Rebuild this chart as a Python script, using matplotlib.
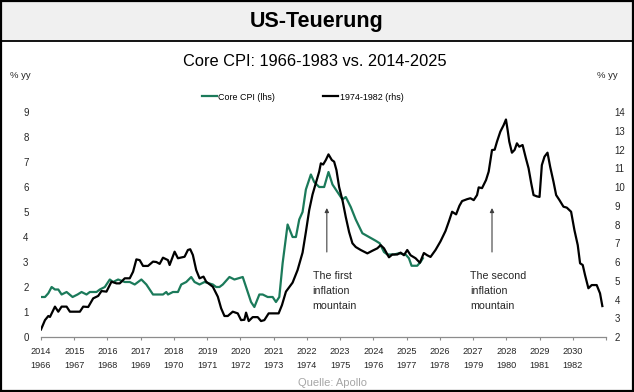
import matplotlib
matplotlib.use("Agg")
import matplotlib.pyplot as plt
from matplotlib.patches import Rectangle
from matplotlib.lines import Line2D

plt.rcParams['font.family'] = ['Liberation Sans Narrow', 'Liberation Sans', 'DejaVu Sans']

# Core CPI 2014-2025 (lhs), x = Jahr (Dezimal)
cpi_t = [2014.00, 2014.12, 2014.22, 2014.32, 2014.42, 2014.52, 2014.62, 2014.77, 2014.95,
         2015.10, 2015.22, 2015.37, 2015.47, 2015.67, 2015.77, 2015.92, 2016.07, 2016.17,
         2016.32, 2016.52, 2016.67, 2016.82, 2017.02, 2017.17, 2017.37, 2017.67, 2017.77,
         2017.82, 2017.97, 2018.12, 2018.22, 2018.37, 2018.52, 2018.62, 2018.77, 2018.92,
         2019.17, 2019.27, 2019.37, 2019.47, 2019.67, 2019.82, 2020.07, 2020.17, 2020.32,
         2020.42, 2020.57, 2020.67, 2020.82, 2020.97, 2021.07, 2021.17, 2021.27, 2021.42,
         2021.57, 2021.67, 2021.77, 2021.87, 2021.97, 2022.12, 2022.22, 2022.37, 2022.52,
         2022.65, 2022.77, 2022.97, 2023.07, 2023.17, 2023.32, 2023.47, 2023.67, 2023.87,
         2024.07, 2024.19, 2024.32, 2024.42, 2024.62, 2024.77, 2024.97, 2025.07, 2025.15,
         2025.32, 2025.42, 2025.49]
cpi_v = [1.60, 1.60, 1.75, 2.00, 1.90, 1.90, 1.70, 1.80, 1.60,
         1.70, 1.80, 1.70, 1.80, 1.80, 1.90, 2.00, 2.30, 2.20,
         2.30, 2.20, 2.20, 2.10, 2.30, 2.10, 1.70, 1.70, 1.80,
         1.70, 1.80, 1.80, 2.10, 2.20, 2.40, 2.20, 2.10, 2.20,
         2.10, 2.00, 2.00, 2.10, 2.40, 2.30, 2.40, 2.00, 1.40,
         1.20, 1.70, 1.70, 1.60, 1.60, 1.40, 1.60, 2.95, 4.50,
         4.00, 4.00, 4.70, 5.00, 5.90, 6.50, 6.20, 6.00, 6.00,
         6.60, 6.10, 5.70, 5.50, 5.60, 5.20, 4.70, 4.15, 4.00,
         3.85, 3.75, 3.40, 3.30, 3.30, 3.35, 3.30, 3.15, 2.85,
         2.85, 3.00, 3.15]

# Core CPI 1966-1983 (rhs), verschoben auf 2014-2031
hist_t = [2014.00, 2014.12, 2014.22, 2014.27, 2014.42, 2014.52, 2014.62, 2014.77, 2014.87,
          2015.17, 2015.27, 2015.42, 2015.57, 2015.72, 2015.82, 2015.97, 2016.12, 2016.27,
          2016.37, 2016.52, 2016.67, 2016.77, 2016.87, 2016.97, 2017.07, 2017.22, 2017.37,
          2017.47, 2017.57, 2017.67, 2017.82, 2017.87, 2018.02, 2018.12, 2018.32, 2018.42,
          2018.49, 2018.57, 2018.67, 2018.77, 2018.89, 2018.97, 2019.17, 2019.32, 2019.42,
          2019.52, 2019.62, 2019.77, 2019.92, 2020.02, 2020.12, 2020.17, 2020.25, 2020.37,
          2020.52, 2020.62, 2020.72, 2020.85, 2021.15, 2021.25, 2021.37, 2021.57, 2021.72,
          2021.87, 2021.97, 2022.07, 2022.17, 2022.27, 2022.37, 2022.42, 2022.49, 2022.57,
          2022.65, 2022.75, 2022.82, 2022.89, 2022.97, 2023.07, 2023.17, 2023.27, 2023.37,
          2023.47, 2023.62, 2023.72, 2023.82, 2023.97, 2024.12, 2024.22, 2024.32, 2024.47,
          2024.57, 2024.72, 2024.82, 2024.92, 2025.02, 2025.12, 2025.27, 2025.40, 2025.52,
          2025.62, 2025.72, 2025.87, 2026.02, 2026.17, 2026.27, 2026.37, 2026.49, 2026.59,
          2026.67, 2026.82, 2026.92, 2027.02, 2027.12, 2027.17, 2027.27, 2027.39, 2027.47,
          2027.57, 2027.65, 2027.72, 2027.82, 2027.92, 2027.99, 2028.04, 2028.09, 2028.17,
          2028.25, 2028.32, 2028.39, 2028.49, 2028.59, 2028.67, 2028.75, 2028.82, 2028.92,
          2029.00, 2029.07, 2029.15, 2029.24, 2029.32, 2029.42, 2029.50, 2029.60, 2029.72,
          2029.82, 2029.95, 2030.05, 2030.15, 2030.22, 2030.30, 2030.37, 2030.47, 2030.57,
          2030.72, 2030.82, 2030.89]
hist_v = [2.40, 2.90, 3.12, 3.07, 3.62, 3.35, 3.62, 3.62, 3.35,
          3.35, 3.62, 3.60, 4.06, 4.19, 4.45, 4.42, 4.95, 4.86,
          4.86, 5.13, 5.13, 5.48, 6.14, 6.10, 5.79, 5.79, 6.02,
          6.00, 5.90, 6.23, 6.10, 5.84, 6.55, 6.20, 6.28, 6.64,
          6.68, 6.37, 5.57, 5.13, 5.22, 4.95, 4.68, 4.15, 3.53,
          3.12, 3.12, 3.35, 3.26, 2.90, 2.92, 3.30, 2.85, 3.06,
          3.06, 2.85, 2.90, 3.26, 3.26, 3.70, 4.42, 4.90, 5.57,
          6.50, 7.60, 8.77, 9.60, 10.20, 10.82, 11.26, 11.20, 11.44,
          11.74, 11.44, 11.35, 10.90, 10.00, 9.30, 8.40, 7.60, 7.00,
          6.80, 6.64, 6.55, 6.46, 6.60, 6.73, 6.90, 6.73, 6.25,
          6.40, 6.40, 6.50, 6.36, 6.64, 6.36, 6.20, 5.96, 6.48,
          6.36, 6.27, 6.64, 7.10, 7.65, 8.15, 8.68, 8.54, 9.00,
          9.25, 9.35, 9.40, 9.30, 9.57, 9.98, 9.94, 10.37, 10.82,
          11.97, 11.99, 12.42, 12.95, 13.30, 13.60, 13.04, 12.42, 11.83,
          11.98, 12.33, 12.15, 12.24, 11.53, 11.00, 10.20, 9.57, 9.50,
          9.47, 11.17, 11.62, 11.83, 11.08, 10.28, 9.57, 9.30, 8.95,
          8.90, 8.68, 7.70, 6.90, 5.93, 5.84, 5.30, 4.60, 4.77,
          4.77, 4.33, 3.65]

years_new = list(range(2014, 2031))
years_old = list(range(1966, 1983))
tick_labels = [f"{a}\n{b}" for a, b in zip(years_new, years_old)]

green = '#1b7a5a'
txt = '#262626'

fig = plt.figure(figsize=(6.34, 3.92), dpi=100)

# Kopfzeile
fig.patches.append(Rectangle((0, 1 - 41 / 392), 1, 41 / 392, transform=fig.transFigure,
                             facecolor='#f0f0f0', edgecolor='none', zorder=0))
fig.lines.append(Line2D([0, 1], [1 - 41 / 392] * 2, transform=fig.transFigure, color='black', lw=1.3))
fig.patches.append(Rectangle((0.001, 0.002), 0.997, 0.996, transform=fig.transFigure,
                             facecolor='none', edgecolor='black', lw=1.6, zorder=5))
fig.text(0.5, 1 - 22 / 392, 'US-Teuerung', ha='center', va='center', fontsize=15.5,
         fontweight='bold', color='black')
fig.text(0.497, 1 - 62 / 392, 'Core CPI: 1966-1983 vs. 2014-2025', ha='center', va='center',
         fontsize=11.8, color='black')

ax = fig.add_axes([41 / 634, 55 / 392, 565 / 634, 225 / 392])
ax2 = ax.twinx()

ax.plot(cpi_t, cpi_v, color=green, lw=1.6, label='Core CPI (lhs)', zorder=3)
ax2.plot(hist_t, hist_v, color='black', lw=1.6, label='1974-1982 (rhs)', zorder=3)

ax.set_xlim(2014, 2031)
ax.set_ylim(0, 9)
ax2.set_ylim(2, 14)
ax.set_yticks(range(0, 10))
ax2.set_yticks(range(2, 15))
ax.set_xticks(years_new + [2031])
ax.set_xticklabels(tick_labels + [''], fontsize=6.6, color=txt, linespacing=1.6)

for a in (ax, ax2):
    for s in a.spines.values():
        s.set_visible(False)
ax.spines['bottom'].set_visible(True)
ax.spines['bottom'].set_color('#8c8c8c')
ax.spines['bottom'].set_linewidth(0.9)
ax.tick_params(axis='x', direction='out', length=2.5, width=0.8, color='#8c8c8c', pad=5)
ax.tick_params(axis='y', length=0, pad=9, labelsize=7, labelcolor=txt)
ax2.tick_params(axis='y', length=0, pad=6, labelsize=7, labelcolor=txt)

fig.text(20 / 634, 1 - 75 / 392, '% yy', ha='center', va='center', fontsize=6.8, color=txt)
fig.text(607 / 634, 1 - 75 / 392, '% yy', ha='center', va='center', fontsize=6.8, color=txt)

# Pfeile und Beschriftungen
arrow = dict(arrowstyle='-|>', color='#404040', lw=0.8, mutation_scale=6, shrinkA=0, shrinkB=0)
ax.annotate('', xy=(2022.6, 5.16), xytext=(2022.6, 3.4), arrowprops=arrow)
ax.annotate('', xy=(2027.57, 5.16), xytext=(2027.57, 3.4), arrowprops=arrow)
ax.text(2022.17, 1.84, 'The first\ninflation\nmountain', ha='left', va='center',
        fontsize=7.7, linespacing=1.65, color=txt)
ax.text(2026.92, 1.84, 'The second\ninflation\nmountain', ha='left', va='center',
        fontsize=7.7, linespacing=1.65, color=txt)

h1, l1 = ax.get_legend_handles_labels()
h2, l2 = ax2.get_legend_handles_labels()
fig.legend(h1 + h2, l1 + l2, loc='center left', bbox_to_anchor=(202 / 634, 1 - 97 / 392),
           ncol=2, frameon=False, fontsize=6.4, handlelength=1.7, handletextpad=0.15,
           columnspacing=5.4, borderpad=0, borderaxespad=0)

fig.text(0.525, 1 - 383 / 392, 'Quelle: Apollo', ha='center', va='center', fontsize=8,
         color='#a6a6a6')

fig.savefig('out.png', dpi=100)
